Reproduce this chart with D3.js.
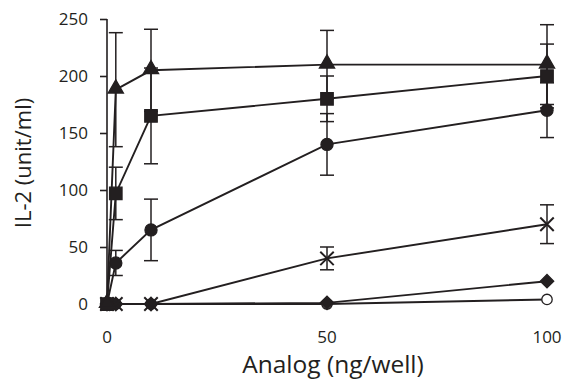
<!DOCTYPE html>
<html>
<head>
<meta charset="utf-8">
<script src="https://cdn.jsdelivr.net/npm/d3@7"></script>
<style>
  body { margin: 0; background: #fff; }
  svg { font-family: "Open Sans", "Noto Sans", sans-serif; }
</style>
</head>
<body>
<svg id="chart" width="562" height="381"></svg>
<script>
const doses = [0, 2, 10, 50, 100];
const xTicks = [0, 50, 100];
const yTicks = [0, 50, 100, 150, 200, 250];

// mean values and error (±) per series
const triangleVals = [0, 188, 205, 210, 210];
const triangleErr = [0, 50, 36, 30, 35];
const squareVals = [0, 97, 165, 180, 200];
const squareErr = [0, 23, 42, 20, 28];
const circleVals = [0, 36, 65, 140, 170];
const circleErr = [0, 11, 27, 27, 24];
const crossVals = [0, 0, 0, 40, 70];
const crossErr = [0, 0, 0, 10, 17];
const diamondVals = [0, 0, 0, 1, 20];
const openVals = [0, 0, 0, 0, 4];

const series = [
  { name: "open", vals: openVals, err: null, symbol: "open" },
  { name: "diamond", vals: diamondVals, err: null, symbol: "diamond" },
  { name: "cross", vals: crossVals, err: crossErr, symbol: "cross" },
  { name: "circle", vals: circleVals, err: circleErr, symbol: "circle" },
  { name: "square", vals: squareVals, err: squareErr, symbol: "square" },
  { name: "triangle", vals: triangleVals, err: triangleErr, symbol: "triangle" },
];

const svg = d3.select("#chart");
const ink = "#231f20";

const x = d3.scaleLinear().domain([0, 100]).range([107, 547]);
const y = d3.scaleLinear().domain([0, 250]).range([304, 19]);

// y axis
const yAxis = svg.append("g")
  .attr("transform", `translate(${x(0)},0)`)
  .call(d3.axisLeft(y).tickValues(yTicks).tickSize(7).tickPadding(12));
yAxis.select(".domain").attr("d", `M0,${y(250)}V${y(0)}`).attr("stroke", ink).attr("stroke-width", 1.6);
yAxis.selectAll(".tick line").attr("stroke", ink).attr("stroke-width", 1.6);
yAxis.selectAll(".tick text")
  .attr("fill", ink)
  .attr("font-size", 17)
  .attr("font-family", "Open Sans, sans-serif");

// x tick labels (no axis line)
svg.append("g")
  .selectAll("text")
  .data(xTicks)
  .join("text")
  .attr("x", d => x(d))
  .attr("y", 343)
  .attr("text-anchor", "middle")
  .attr("font-size", 17)
  .attr("fill", ink)
  .text(d => d);

// axis titles
svg.append("text")
  .attr("x", 333)
  .attr("y", 373)
  .attr("text-anchor", "middle")
  .attr("font-size", 24.5)
  .attr("fill", ink)
  .text("Analog (ng/well)");

svg.append("text")
  .attr("transform", "translate(31,163) rotate(-90)")
  .attr("text-anchor", "middle")
  .attr("font-size", 22)
  .attr("fill", ink)
  .text("IL-2 (unit/ml)");

// error bars
const capW = 7;
series.filter(s => s.err).forEach(s => {
  const g = svg.append("g").attr("stroke", ink).attr("stroke-width", 1.5);
  doses.forEach((d, i) => {
    const e = s.err[i];
    if (!e) return;
    const cx = x(d);
    const top = y(s.vals[i] + e);
    const bot = y(s.vals[i] - e);
    g.append("line").attr("x1", cx).attr("x2", cx).attr("y1", top).attr("y2", bot);
    g.append("line").attr("x1", cx - capW).attr("x2", cx + capW).attr("y1", top).attr("y2", top);
    g.append("line").attr("x1", cx - capW).attr("x2", cx + capW).attr("y1", bot).attr("y2", bot);
  });
});

// lines
const line = d3.line()
  .x((v, i) => x(doses[i]))
  .y(v => y(v));

series.forEach(s => {
  svg.append("path")
    .attr("d", line(s.vals))
    .attr("fill", "none")
    .attr("stroke", ink)
    .attr("stroke-width", 1.9);
});

// markers
const symbolTypes = {
  triangle: d3.symbolTriangle,
  square: d3.symbolSquare,
  circle: d3.symbolCircle,
  diamond: d3.symbolSquare,
  cross: d3.symbolTimes,
  open: d3.symbolCircle,
};
const symbolSizes = {
  triangle: 100,
  square: 155,
  circle: 115,
  diamond: 90,
  cross: 120,
  open: 85,
};

series.forEach(s => {
  const sym = d3.symbol().type(symbolTypes[s.symbol]).size(symbolSizes[s.symbol]);
  svg.append("g")
    .selectAll("path")
    .data(s.vals)
    .join("path")
    .attr("transform", (v, i) => {
      const t = `translate(${x(doses[i])},${y(v) - (s.symbol === "triangle" ? 1 : 0)})`;
      return s.symbol === "diamond" ? t + " rotate(45)" : t;
    })
    .attr("d", sym)
    .attr("fill", s.symbol === "open" ? "#fff" : ink)
    .attr("stroke", ink)
    .attr("stroke-width", s.symbol === "cross" ? 2 : 1.3);
});
</script>
</body>
</html>
